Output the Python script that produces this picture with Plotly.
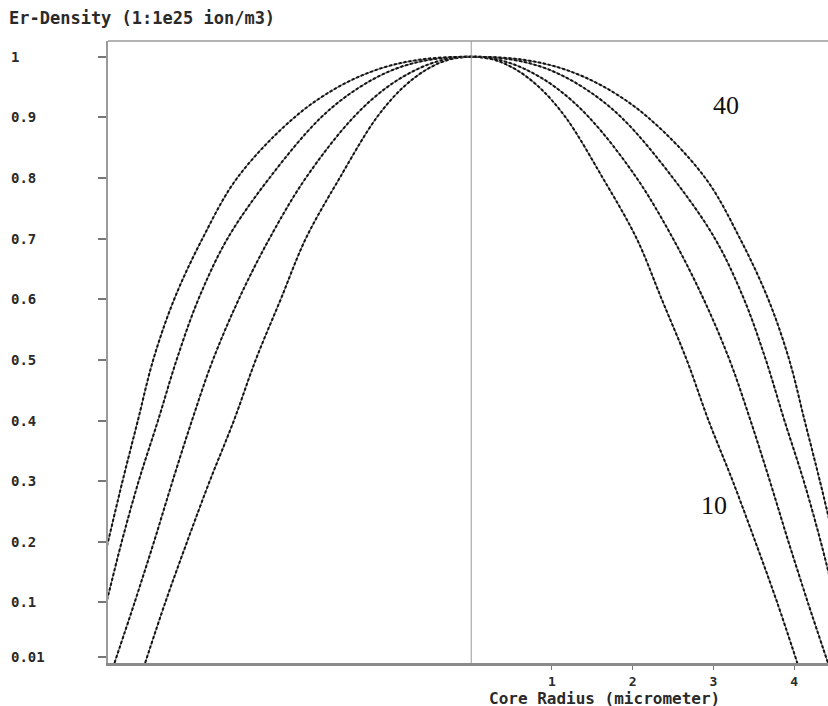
import plotly.graph_objects as go

# Density levels (y) and the radius (micrometer) where each curve reaches that level
density_levels = [1.0, 0.995, 0.98, 0.95, 0.9, 0.8, 0.7, 0.6, 0.5, 0.4, 0.3, 0.2, 0.1, 0.0]
radius_10 = [0, 0.28, 0.54, 0.84, 1.17, 1.63, 2.05, 2.36, 2.67, 2.94, 3.24, 3.52, 3.79, 4.04]
radius_20 = [0, 0.34, 0.66, 1.04, 1.46, 2.05, 2.50, 2.88, 3.20, 3.46, 3.70, 3.93, 4.17, 4.42]
radius_30 = [0, 0.52, 0.94, 1.38, 1.86, 2.50, 3.02, 3.38, 3.65, 3.88, 4.12, 4.33, 4.52, 4.72]
radius_40 = [0, 0.65, 1.14, 1.65, 2.19, 2.90, 3.33, 3.68, 3.94, 4.13, 4.32, 4.50, 4.68, 4.85]

y_tick_vals = [0.01, 0.1, 0.2, 0.3, 0.4, 0.5, 0.6, 0.7, 0.8, 0.9, 1]
y_tick_text = ["0.01", "0.1", "0.2", "0.3", "0.4", "0.5", "0.6", "0.7", "0.8", "0.9", "1"]
x_tick_vals = [1, 2, 3, 4]
x_tick_text = ["1", "2", "3", "4"]

y_title = "Er-Density (1:1e25 ion/m3)"
x_title = "Core Radius (micrometer)"

series = [("10", radius_10), ("20", radius_20), ("30", radius_30), ("40", radius_40)]

MONO = "DejaVu Sans Mono"
TXT = "#2a2a2a"

fig = go.Figure()
for name, radii in series:
    xs = [-r for r in radii[::-1]] + radii[1:]
    ys = density_levels[::-1] + density_levels[1:]
    fig.add_trace(go.Scatter(
        x=xs, y=ys, mode="lines", name=name, line_shape="spline",
        line=dict(color="#6a6a6a", width=1.2), hoverinfo="skip", showlegend=False))
    fig.add_trace(go.Scatter(
        x=xs, y=ys, mode="lines", name=name, line_shape="spline",
        line=dict(color="#111111", width=2, dash="3px,2px"), showlegend=False))

fig.update_layout(
    width=828, height=706,
    margin=dict(l=108, r=0, t=41, b=43),
    paper_bgcolor="white", plot_bgcolor="white",
    xaxis=dict(range=[-4.5, 4.42], showgrid=False, zeroline=False,
               showline=True, linecolor="#8a8a8a", linewidth=3,
               tickvals=x_tick_vals, ticktext=x_tick_text, ticks="outside",
               ticklen=4, tickcolor="#777", tickwidth=1,
               tickfont=dict(family=MONO, size=13, color=TXT, weight="bold")),
    yaxis=dict(range=[0, 1.026], showgrid=False, zeroline=False,
               showline=True, linecolor="#9a9a9a", linewidth=2,
               tickvals=y_tick_vals, ticks="outside", ticklen=8,
               tickcolor="#777", tickwidth=1.5, showticklabels=False),
)

# top frame line and centre line
fig.add_shape(type="line", xref="paper", yref="paper", x0=0, x1=1, y0=1, y1=1,
              line=dict(color="#9a9a9a", width=1.5))
fig.add_shape(type="line", xref="x", yref="paper", x0=0, x1=0, y0=0, y1=1,
              line=dict(color="#9a9a9a", width=1))

# left-aligned y tick labels
for v, t in zip(y_tick_vals, y_tick_text):
    fig.add_annotation(x=0, xref="paper", y=v, yref="y", text=t, showarrow=False,
                       xanchor="left", yanchor="middle", xshift=-99,
                       font=dict(family=MONO, size=14, color=TXT, weight="bold"))

fig.add_annotation(x=0, xref="paper", y=1, yref="paper", text=y_title,
                   showarrow=False, xanchor="left", yanchor="middle",
                   xshift=-101, yshift=23,
                   font=dict(family=MONO, size=17, color=TXT, weight="bold"))
fig.add_annotation(x=0.69, xref="paper", y=0, yref="paper", text=x_title,
                   showarrow=False, xanchor="center", yanchor="middle",
                   yshift=-35, height=16, borderpad=0,
                   font=dict(family=MONO, size=16, color=TXT, weight="bold"))

fig.add_annotation(x=3.16, y=0.92, xref="x", yref="y", text="40", showarrow=False,
                   font=dict(family="Liberation Serif", size=26, color="#111"))
fig.add_annotation(x=3.01, y=0.26, xref="x", yref="y", text="10", showarrow=False,
                   font=dict(family="Liberation Serif", size=26, color="#111"))

fig.write_html("out.html", config={"displayModeBar": False},
               post_script="document.body.style.margin='0';document.body.style.overflow='hidden';")
